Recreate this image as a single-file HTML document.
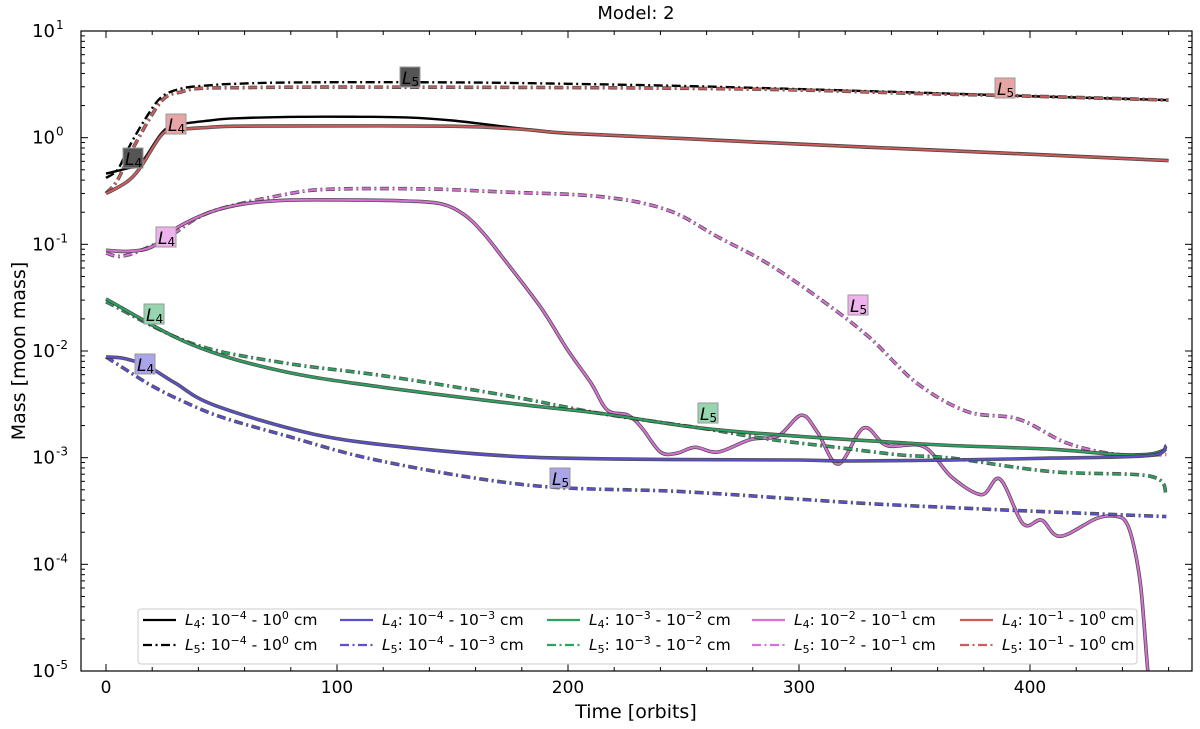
<!DOCTYPE html>
<html><head><meta charset="utf-8">
<style>
body{margin:0;background:#fff;}
svg{display:block;font-family:"DejaVu Sans","Liberation Sans",sans-serif;}
</style></head>
<body>
<svg id="chart" width="1200" height="729" viewBox="0 0 1200 729" xmlns="http://www.w3.org/2000/svg">
<text x="636" y="19" font-size="18" text-anchor="middle">Model: 2</text>
<text x="636" y="718" font-size="19" text-anchor="middle">Time [orbits]</text>
<text transform="translate(25,351) rotate(-90)" font-size="19" text-anchor="middle">Mass [moon mass]</text>
<g id="plot"></g>
</svg>
<script>
// ---- data ----
const blackL4T=[0,10,15,24,30,45,56,84,110,130,150,175,200,250,300,350,400,460];
const blackL4V=[0.46,0.52,0.57,1.1,1.31,1.45,1.52,1.57,1.57,1.55,1.45,1.25,1.1,0.98,0.87,0.78,0.7,0.61];
const blackL5T=[0,5,10,17,24,33,45,56,84,150,200,250,300,350,400,460];
const blackL5V=[0.42,0.5,0.82,1.5,2.4,2.9,3.1,3.2,3.3,3.3,3.2,3.05,2.85,2.65,2.45,2.25];
const redL4T=[0,5,10,15,24,30,45,56,84,150,180,200,250,300,350,400,460];
const redL4V=[0.30,0.34,0.40,0.53,1.06,1.18,1.25,1.28,1.29,1.28,1.2,1.1,0.98,0.87,0.78,0.7,0.61];
const redL5T=[0,5,12,24,33,41,60,100,200,250,300,350,400,460];
const redL5V=[0.30,0.4,0.82,2.2,2.7,2.9,2.95,2.98,2.95,2.9,2.8,2.6,2.45,2.25];
const magL4T=[0,10,20,30,45,60,80,110,130,145,155,163,171,188,200,210,217,226,232,240,247,255,265,279,291,301,308,317,328,338,354,366,379,387,397,405,413,429,438,442,445,448,451,453];
const magL4V=[0.088,0.086,0.095,0.14,0.2,0.24,0.26,0.26,0.255,0.24,0.19,0.13,0.079,0.026,0.0101,0.005,0.0028,0.0025,0.0019,0.00113,0.0011,0.00125,0.00113,0.00148,0.0016,0.0025,0.00173,0.00087,0.0019,0.0013,0.00127,0.00066,0.00045,0.00063,0.00024,0.00026,0.000183,0.00027,0.00028,0.00024,0.000147,0.00006,0.00001,0.000004];
const magL5T=[0,8,25,45,80,100,140,171,214,243,265,286,308,330,351,373,395,416,438,459];
const magL5V=[0.083,0.078,0.11,0.2,0.3,0.33,0.33,0.31,0.28,0.21,0.117,0.067,0.032,0.0137,0.005,0.0027,0.0023,0.00137,0.00107,0.00107];
const grnL4T=[0,37,76,119,177,214,257,301,344,366,409,438,452,459];
const grnL4V=[0.0308,0.0115,0.0065,0.0046,0.0032,0.0026,0.0019,0.00158,0.00138,0.0013,0.0012,0.00107,0.00108,0.0012];
const grnL5T=[0,37,76,119,171,214,257,286,315,344,366,409,452,459];
const grnL5V=[0.029,0.0118,0.0078,0.0059,0.0039,0.0026,0.0019,0.0015,0.00126,0.00106,0.00099,0.00074,0.00067,0.00045];
const bluL4T=[0,8,18,30,47,90,133,184,250,300,322,366,409,452,459];
const bluL4V=[0.0088,0.0085,0.0072,0.005,0.0031,0.00166,0.00123,0.00101,0.00096,0.00095,0.00093,0.00095,0.00099,0.00105,0.0013];
const bluL5T=[0,10,20,33,50,76,119,184,250,322,366,409,459];
const bluL5V=[0.0088,0.0064,0.0047,0.0034,0.0024,0.00165,0.00093,0.00055,0.00048,0.00038,0.00034,0.00031,0.00028];
const xTicks=[0,100,200,300,400];
const yExps=[1,0,-1,-2,-3,-4,-5];

// ---- axes ----
const L=81,R=1192,T=31,B=671;
const X0=106,XS=2.31;
function xs(t){return X0+t*XS;}
function ys(v){return T+(1-Math.log10(v))*(B-T)/6;}
const NS="http://www.w3.org/2000/svg";
const plot=document.getElementById('plot');
function mk(tag,attrs,parent){const e=document.createElementNS(NS,tag);for(const k in attrs)e.setAttribute(k,attrs[k]);(parent||plot).appendChild(e);return e;}

const clip=mk('clipPath',{id:'clip'});
mk('rect',{x:L,y:T,width:R-L,height:B-T},clip);
const lines=mk('g',{'clip-path':'url(#clip)'});



const series=[
 ['black-l5',blackL5T,blackL5V,'#000',true],
 ['red-l5',redL5T,redL5V,'#cd5c5c',true],
 ['black-l4',blackL4T,blackL4V,'#000',false],
 ['red-l4',redL4T,redL4V,'#cd5c5c',false],
 ['magenta-l5',magL5T,magL5V,'#da70d6',true],
 ['magenta-l4',magL4T,magL4V,'#da70d6',false],
 ['green-l5',grnL5T,grnL5V,'#2ca25f',true],
 ['green-l4',grnL4T,grnL4V,'#2ca25f',false],
 ['blue-l5',bluL5T,bluL5V,'#5a4fcf',true],
 ['blue-l4',bluL4T,bluL4V,'#5a4fcf',false]
];
function pathD(ts,vs){
  const p=ts.map((t,i)=>[xs(t),ys(vs[i])]);
  let d='M'+p[0][0].toFixed(1)+','+p[0][1].toFixed(1);
  for(let i=0;i<p.length-1;i++){
    const p0=p[i-1]||p[i],p1=p[i],p2=p[i+1],p3=p[i+2]||p2;
    const c1x=p1[0]+(p2[0]-p0[0])/6,c1y=p1[1]+(p2[1]-p0[1])/6;
    const c2x=p2[0]-(p3[0]-p1[0])/6,c2y=p2[1]-(p3[1]-p1[1])/6;
    d+=' C'+c1x.toFixed(1)+','+c1y.toFixed(1)+' '+c2x.toFixed(1)+','+c2y.toFixed(1)+' '+p2[0].toFixed(1)+','+p2[1].toFixed(1);
  }
  return d;
}
series.forEach(s=>{
  const d=pathD(s[1],s[2]);
  const dash=s[4]?'9,3.5,2,3.5':'none';
  const col=s[3];
  if(col!=='#000'){
    const u=mk('path',{d:d,fill:'none',stroke:'#333','stroke-width':3.6,'stroke-dasharray':dash,opacity:0.85},lines);
    
    
  }
  const p=mk('path',{d:d,fill:'none',stroke:col,'stroke-width':col==='#000'?2.4:2,'stroke-dasharray':dash},lines);
  
  
});

// labels
const labels=[
 ['black-l5-label',410,77,'5','#555'],['black-l4-label',133,158,'4','#555'],
 ['red-l4-label',176,124,'4','#e8a5a5'],['red-l5-label',1005,88,'5','#e8a5a5'],
 ['magenta-l4-label',166,237,'4','#eeb3ec'],['magenta-l5-label',858,305,'5','#eeb3ec'],
 ['green-l4-label',154,314,'4','#97d5b0'],['green-l5-label',708,413,'5','#97d5b0'],
 ['blue-l4-label',145,364,'4','#aaa4e8'],['blue-l5-label',560,478,'5','#aaa4e8']
];
labels.forEach(l=>{
  const g=mk('g',{});
  
  
  mk('rect',{x:l[1]-10,y:l[2]-10,width:20,height:20,fill:l[4],stroke:'#999','stroke-width':1},g);
  const t=mk('text',{x:l[1]-8,y:l[2]+7,'font-size':17,'font-style':'italic'},g);
  t.textContent='L';
  const s=mk('tspan',{'font-size':12,'font-style':'normal',dy:2},t);
  s.textContent=l[3];
});

// frame
const fr=mk('rect',{x:L,y:T,width:R-L,height:B-T,fill:'none',stroke:'#000','stroke-width':1.2});


const ticks=mk('g',{stroke:'#000','stroke-width':1});


for(let t=0;t<=460;t+=20){
  const x=xs(t),len=(t%100===0)?7:4;
  mk('line',{x1:x,y1:B,x2:x,y2:B-len},ticks);
  mk('line',{x1:x,y1:T,x2:x,y2:T+len},ticks);
}
xTicks.forEach(t=>{
  const e=mk('text',{x:xs(t),y:B+22,'font-size':17,'text-anchor':'middle'});
  
  
  e.textContent=t;
});
yExps.forEach(k=>{
  const y=ys(Math.pow(10,k));
  mk('line',{x1:L,y1:y,x2:L+7,y2:y},ticks);
  mk('line',{x1:R,y1:y,x2:R-7,y2:y},ticks);
  if(k>-5){for(let m=2;m<10;m++){const yy=ys(m*Math.pow(10,k-1));
    mk('line',{x1:L,y1:yy,x2:L+4,y2:yy},ticks);mk('line',{x1:R,y1:yy,x2:R-4,y2:yy},ticks);}}
  const e=mk('text',{x:L-26,y:y+6,'font-size':18,'text-anchor':'end'});
  
  
  e.textContent='10';
  const s=mk('tspan',{x:L-25,dy:-8,'font-size':12,'text-anchor':'start'},e);
  s.textContent=k;
});

// legend
const lg=mk('g',{});


mk('rect',{x:138,y:609,width:999,height:55,rx:3,fill:'#fff','fill-opacity':0.85,stroke:'#ccc'},lg);
const legCols=[[143,'#000','10','−4','10','0'],[340,'#5a4fcf','10','−4','10','−3'],[547,'#2ca25f','10','−3','10','−2'],[752,'#da70d6','10','−2','10','−1'],[960,'#cd5c5c','10','−1','10','0']];
legCols.forEach(c=>{
  [['4',624,'none'],['5',649,'9,3.5,2,3.5']].forEach(r=>{
    const g=mk('g',{},lg);
    
    
    mk('line',{x1:c[0],y1:r[1]-4,x2:c[0]+33,y2:r[1]-4,stroke:c[1],'stroke-width':2.2,'stroke-dasharray':r[2]},g);
    const t=mk('text',{x:c[0]+42,y:r[1]+1,'font-size':15.5},g);
    const a=mk('tspan',{'font-style':'italic'},t);a.textContent='L';
    const b=mk('tspan',{'font-size':11,dy:3},t);b.textContent=r[0];
    const d=mk('tspan',{dy:-3},t);d.textContent=': '+c[2];
    const e=mk('tspan',{'font-size':11,dy:-6},t);e.textContent=c[3];
    const f=mk('tspan',{dy:6},t);f.textContent=' - '+c[4];
    const h=mk('tspan',{'font-size':11,dy:-6},t);h.textContent=c[5];
    const i=mk('tspan',{dy:6},t);i.textContent=' cm';
  });
});
</script>
</body></html>
